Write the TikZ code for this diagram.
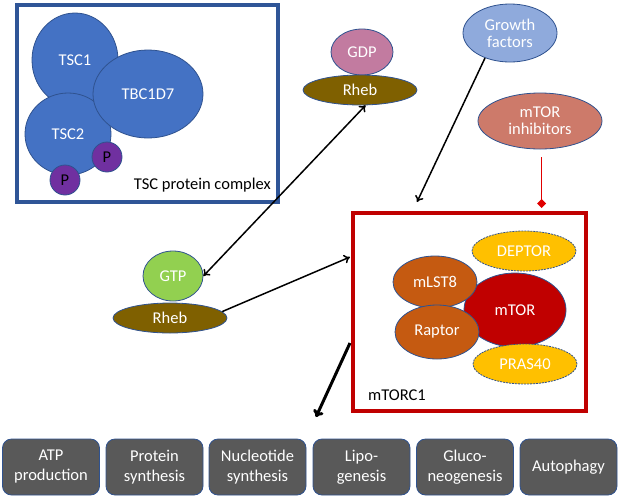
\documentclass[tikz,border=0pt]{standalone}
\usepackage{fontspec}
\setmainfont{Carlito}
\usetikzlibrary{shapes.geometric,arrows.meta,calc}
\definecolor{tscframe}{HTML}{2F5597}
\definecolor{tscfill}{HTML}{4472C4}
\definecolor{edgeblue}{HTML}{2F528F}
\definecolor{pfill}{HTML}{7030A0}
\definecolor{gdpfill}{HTML}{C27BA0}
\definecolor{rhebfill}{HTML}{7F6000}
\definecolor{gtpfill}{HTML}{92D050}
\definecolor{gffill}{HTML}{8FAADC}
\definecolor{mifill}{HTML}{CD7A6A}
\definecolor{darkred}{HTML}{C00000}
\definecolor{orangefill}{HTML}{C55A11}
\definecolor{goldfill}{HTML}{FFC000}
\definecolor{boxgray}{HTML}{595959}
\definecolor{inhred}{HTML}{E00000}
\tikzset{
  blob/.style={ellipse, draw=edgeblue, line width=0.8pt, inner sep=0pt,
    text=white, font=\fontsize{16.5}{19}\selectfont, align=center},
  dblob/.style={blob, dash pattern=on 2pt off 1pt},
  outbox/.style={rectangle, rounded corners=9pt, draw=edgeblue, line width=0.8pt,
    fill=boxgray, text=white, minimum width=97pt, minimum height=56pt,
    font=\fontsize{16.5}{20}\selectfont, align=center, inner sep=0pt},
  arr/.style={line width=1.5pt, -{To[length=6pt,width=9pt]}},
  darr/.style={line width=1.5pt, {To[length=6pt,width=9pt]}-{To[length=6pt,width=9pt]}},
  bigarr/.style={line width=3pt, -{To[length=7pt,width=11pt]}},
  inh/.style={line width=1.5pt, draw=inhred, -{Diamond[length=9pt,width=9pt,fill=inhred]}},
  lbl/.style={font=\fontsize{16.5}{19}\selectfont, inner sep=0pt}
}
\begin{document}
\begin{tikzpicture}[x=1pt,y=-1pt]
\useasboundingbox (0,0) rectangle (620,496);
% TSC complex frame
\node[draw=tscframe, line width=4pt, minimum width=261pt, minimum height=197pt, inner sep=0pt] (tscbox) at (147.5,103.5) {};
\node[blob, fill=tscfill, minimum width=86pt, minimum height=94pt] (tsc1) at (75,60) {TSC1};
\node[blob, fill=tscfill, minimum width=86pt, minimum height=82pt] (tsc2) at (68,134) {TSC2};
\node[blob, fill=tscfill, minimum width=110pt, minimum height=88pt] (tbc) at (148,94) {TBC1D7};
\node[blob, fill=pfill, text=black, minimum width=30pt, minimum height=30pt] (p1) at (107,157) {P};
\node[blob, fill=pfill, text=black, minimum width=30pt, minimum height=30pt] (p2) at (65,180) {P};
\node[lbl, anchor=east] (tsclabel) at (271,185) {TSC protein complex};
% Rheb-GDP
\node[blob, fill=gdpfill, minimum width=62pt, minimum height=46pt] (gdp) at (362,52) {GDP};
\node[blob, fill=rhebfill, minimum width=114pt, minimum height=30pt] (rheb1) at (360,90) {Rheb};
% Growth factors, inhibitors
\node[blob, fill=gffill, minimum width=94pt, minimum height=58pt] (gf) at (510,33) {Growth\\[-2pt]factors};
\node[blob, fill=mifill, minimum width=124pt, minimum height=56pt] (mi) at (540,121) {mTOR\\[-2pt]inhibitors};
% Rheb-GTP
\node[blob, fill=gtpfill, minimum width=60pt, minimum height=50pt] (gtp) at (173,276) {GTP};
\node[blob, fill=rhebfill, minimum width=114pt, minimum height=30pt] (rheb2) at (170,318) {Rheb};
% mTORC1
\node[draw=darkred, line width=4pt, minimum width=233pt, minimum height=198pt, inner sep=0pt] (mtorc1) at (469.5,312) {};
\node[blob, fill=darkred, minimum width=102pt, minimum height=74pt] (mtor) at (515,310) {mTOR};
\node[blob, fill=orangefill, minimum width=84pt, minimum height=52pt] (mlst8) at (435,282) {mLST8};
\node[blob, fill=orangefill, minimum width=84pt, minimum height=54pt] (raptor) at (437,332) {Raptor};
\node[dblob, fill=goldfill, minimum width=104pt, minimum height=40pt] (deptor) at (524,251) {DEPTOR};
\node[dblob, fill=goldfill, minimum width=104pt, minimum height=40pt] (pras) at (525,364) {PRAS40};
\node[lbl, anchor=west] (mtorc1label) at (368,395) {mTORC1};
% outputs
\node[outbox] (o1) at (51,467) {ATP\\production};
\node[outbox] (o2) at (154.5,467) {Protein\\synthesis};
\node[outbox] (o3) at (257.5,467) {Nucleotide\\synthesis};
\node[outbox] (o4) at (361.5,467) {Lipo-\\genesis};
\node[outbox] (o5) at (465,467) {Gluco-\\neogenesis};
\node[outbox] (o6) at (568.5,467) {Autophagy};
% connectors
\coordinate (gfend) at (417,202);
\coordinate (inhend) at (541.7,208);
\coordinate (k1) at (0,257);
\coordinate (k2) at (0,343);
\coordinate (bigend) at (316,417);
\draw[darr] (rheb1.290) -- (gtp.east);
\draw[arr] (gf.225) -- (gfend);
\draw[inh] ([yshift=-8pt]mi.south -| inhend) -- (inhend);
\draw[arr] (rheb2.7) -- ([xshift=-1pt]mtorc1.west |- k1);
\draw[bigarr] ([xshift=-1pt]mtorc1.west |- k2) -- (bigend);
\end{tikzpicture}
\end{document}
